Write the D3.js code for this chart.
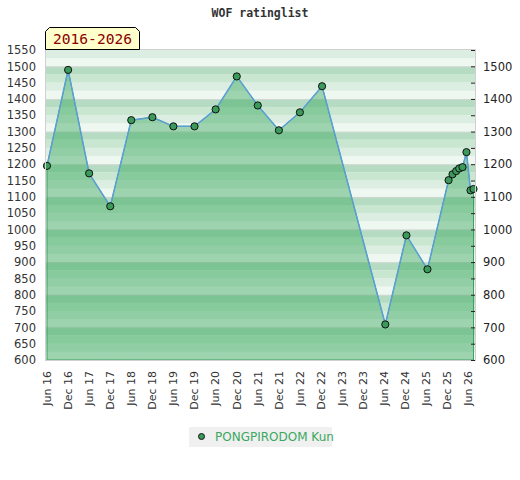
<!DOCTYPE html>
<html>
<head>
<meta charset="utf-8">
<script src="https://d3js.org/d3.v7.min.js"></script>
<style>
  body { margin: 0; background: #fff; }
  text { font-family: "DejaVu Sans", sans-serif; }
</style>
</head>
<body>
<div id="chart"></div>
<script>
// rating list data
const dates = ["2016-06-01","2016-12-01","2017-06-01","2017-12-01","2018-06-01","2018-12-01",
  "2019-06-01","2019-12-01","2020-06-01","2020-12-01","2021-06-01","2021-12-01","2022-06-01",
  "2022-12-10","2024-06-10","2024-12-10","2025-06-10","2025-12-10","2026-01-13","2026-02-14",
  "2026-03-12","2026-04-10","2026-05-14","2026-06-18","2026-07-14"]
const ratings = [1195,1489,1172,1071,1335,1344,1316,1316,1368,1469,1380,1304,1359,
  1439,709,982,878,1151,1169,1179,1187,1191,1237,1120,1124]
const leftTicks = d3.range(600, 1551, 50)
const rightTicks = d3.range(600, 1501, 100)
const rightMinor = d3.range(650, 1551, 100)
const stripeColors = ["#eff7f1", "#dcede2", "#c9e6d1", "#b5dcc2"]
const title = "WOF ratinglist"
const period = "2016-2026"
const player = "PONGPIRODOM Kun"

const parse = d3.timeParse("%Y-%m-%d")
const data = dates.map((d, i) => ({ date: parse(d), value: ratings[i] }))

const width = 520, height = 480
const pLeft = 46, pRight = 475, pTop = 50, pBottom = 360

const svg = d3.select("#chart").append("svg")
  .attr("width", width).attr("height", height)

const x = d3.scaleTime()
  .domain(d3.extent(data, d => d.date))
  .range([47, 473.5])
const y = d3.scaleLinear().domain([600, 1550]).range([pBottom, pTop])

// title
svg.append("text")
  .attr("x", 260).attr("y", 17)
  .attr("text-anchor", "middle")
  .style("font-family", "'DejaVu Sans Mono', monospace")
  .style("font-weight", "bold")
  .style("font-size", "11.5px")
  .attr("fill", "#333")
  .text(title)

// striped background, 4 stripes per hundred
const stripes = d3.range(600, 1550, 25)
svg.append("g").selectAll("rect")
  .data(stripes).join("rect")
  .attr("x", pLeft).attr("width", pRight - pLeft)
  .attr("y", d => y(d + 25)).attr("height", d => y(d) - y(d + 25))
  .attr("fill", d => stripeColors[(d % 100) / 25])

svg.append("g").selectAll("line")
  .data(rightTicks).join("line")
  .attr("x1", pLeft).attr("x2", pRight)
  .attr("y1", d => y(d) + 0.5).attr("y2", d => y(d) + 0.5)
  .attr("stroke", "#d3d8d4").attr("stroke-width", 1)

// area + line
const area = d3.area().x(d => x(d.date)).y0(y(600)).y1(d => y(d.value))
svg.append("path")
  .datum(data)
  .attr("d", area)
  .attr("fill", "rgba(49,164,85,0.43)")
  .attr("stroke", "#3f9f62").attr("stroke-width", 1)

const line = d3.line().x(d => x(d.date)).y(d => y(d.value))
svg.append("path")
  .datum(data)
  .attr("d", line)
  .attr("fill", "none")
  .attr("stroke", "#5b9fd6").attr("stroke-width", 1.5)

svg.append("g").selectAll("circle")
  .data(data).join("circle")
  .attr("cx", d => x(d.date)).attr("cy", d => y(d.value))
  .attr("r", 3.6)
  .attr("fill", "#3a9a5a").attr("stroke", "#111").attr("stroke-width", 1)

// plot border
svg.append("rect")
  .attr("x", pLeft - 0.5).attr("y", pTop - 0.5)
  .attr("width", pRight - pLeft + 1).attr("height", pBottom - pTop + 1)
  .attr("fill", "none").attr("stroke", "#d0d0d0")

// left axis
const yLeft = svg.append("g")
  .attr("transform", `translate(${pLeft},0)`)
  .call(d3.axisLeft(y).tickValues(leftTicks).tickFormat(d3.format("d")).tickSize(0).tickPadding(10))
yLeft.select(".domain").remove()
yLeft.selectAll("text").style("font-size", "11.5px").attr("fill", "#333")

// right axis
const yRight = svg.append("g")
  .attr("transform", `translate(${pRight},0)`)
  .call(d3.axisRight(y).tickValues(rightTicks).tickFormat(d3.format("d"))
    .tickSizeInner(-4).tickSizeOuter(0).tickPadding(8))
yRight.select(".domain").remove()
yRight.selectAll("line").attr("stroke", "#222")
yRight.selectAll("text").style("font-size", "11.5px").attr("fill", "#222")
yRight.selectAll(".minor")
  .data(rightMinor).join("line")
  .attr("class", "minor")
  .attr("x1", -4).attr("x2", 0)
  .attr("y1", d => y(d) + 0.5).attr("y2", d => y(d) + 0.5)
  .attr("stroke", "#222")

// x labels, every June and December
const xTicks = d3.timeMonth.range(parse("2016-06-01"), parse("2026-06-02"))
  .filter(d => d.getMonth() === 5 || d.getMonth() === 11)
const fmt = d3.timeFormat("%b %y")
svg.append("g").selectAll("text")
  .data(xTicks).join("text")
  .attr("transform", d => `translate(${x(d)},371) rotate(-90)`)
  .attr("text-anchor", "end")
  .attr("dy", "0.35em")
  .style("font-size", "11px")
  .attr("fill", "#333")
  .text(d => fmt(d))

// period label box with clipped top corners
const bx = 45.5, by = 27.5, bw = 94, bh = 22, c = 4
svg.append("path")
  .attr("d", `M${bx},${by + bh} L${bx},${by + c} L${bx + c},${by} L${bx + bw - c},${by} L${bx + bw},${by + c} L${bx + bw},${by + bh} Z`)
  .attr("fill", "#ffffcc").attr("stroke", "#000").attr("stroke-width", 1)
svg.append("text")
  .attr("x", bx + bw / 2).attr("y", by + 16.5)
  .attr("text-anchor", "middle")
  .style("font-family", "'DejaVu Sans Mono', monospace")
  .style("font-size", "14.6px")
  .attr("fill", "#8b0000")
  .text(period)

// legend
const lg = svg.append("g")
lg.append("rect").attr("x", 189).attr("y", 427).attr("width", 143).attr("height", 20).attr("fill", "#f0f0f0")
lg.append("circle").attr("cx", 201.5).attr("cy", 436.5).attr("r", 3)
  .attr("fill", "#3a9a5a").attr("stroke", "#111")
lg.append("text").attr("x", 215).attr("y", 441)
  .style("font-size", "12px").attr("fill", "#3aa860")
  .text(player)
</script>
</body>
</html>
